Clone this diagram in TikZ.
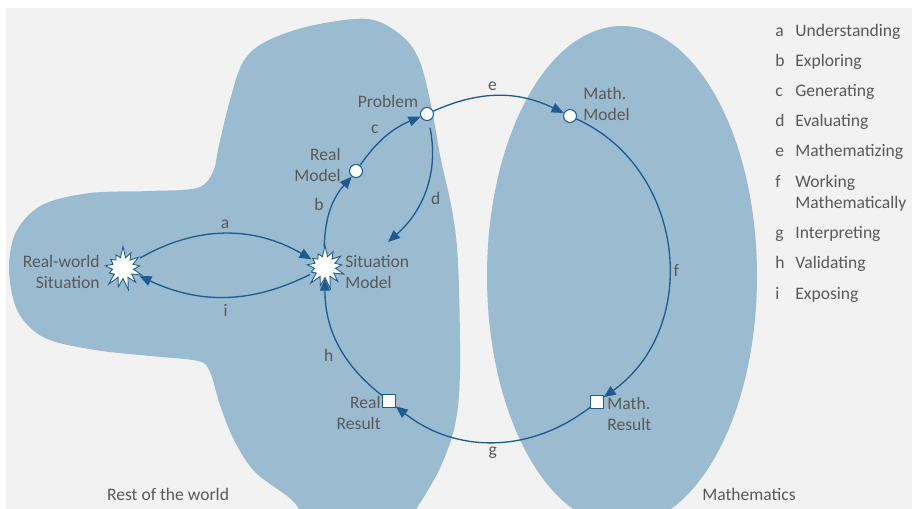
\documentclass[tikz,border=0pt]{standalone}
\usepackage{fontspec}
\setmainfont{Carlito}
\usetikzlibrary{arrows.meta, shapes.symbols}

\definecolor{paper}{HTML}{F2F2F2}
\definecolor{sky}{HTML}{9ABBD0}
\definecolor{flow}{HTML}{1F5A91}
\definecolor{ink}{HTML}{595959}

\begin{document}
\begin{tikzpicture}[
      x = 0.02cm, y = -0.02cm, font = \fontsize{10}{12}\selectfont, text = ink,
      region/.style = {fill = sky},
      state/.style  = {circle, draw = flow, fill = white, line width = .6pt,
                       minimum size = 2.6mm, inner sep = 0pt},
      result/.style = {rectangle, draw = flow, fill = white, line width = .6pt,
                       minimum size = 2.5mm, inner sep = 0pt},
      burst/.style  = {starburst, starburst points = 13, starburst point height = 2.4mm,
                       random starburst = 7, draw = flow, fill = white, line width = .5pt,
                       inner sep = 1.5mm},
      arr/.style    = {-{Triangle[length = 2.4mm, width = 2mm]}, draw = flow, line width = .75pt},
      lbl/.style    = {inner sep = 2.5pt},
      tag/.style    = {inner sep = 0pt, align = center},
      key/.style    = {anchor = base west, inner sep = 0pt}
    ]

  \useasboundingbox (0,0) rectangle (912,509);
  \fill[paper] (6,8) rectangle (912,509);

  % regions ---------------------------------------------------------------
  \begin{scope}
    \clip (6,8) rectangle (912,509);
    \fill[region] plot[smooth cycle, tension = .55] coordinates {
      (368,19) (402,36) (420,62) (432,110) (441,160) (452,210) (458,262)
      (460,370) (455,425) (440,468) (418,506) (395,535) (320,530) (292,500)
      (255,472) (234,440) (220,405) (210,372) (198,361) (150,356) (95,350)
      (45,338) (18,312) (9,270) (16,232) (42,205) (90,193) (150,191) (197,188)
      (213,172) (219,145) (230,100) (243,62) (265,42) (310,26)};
    \fill[region] (622,276) ellipse [x radius = 135, y radius = 250];
  \end{scope}

  % states ----------------------------------------------------------------
  \node[burst]  (rws)  at (123,268) {};
  \node[burst]  (sm)   at (325,267) {};
  \node[state]  (rm)   at (356,171) {};
  \node[state]  (prob) at (427,114) {};
  \node[state]  (mm)   at (570,116) {};
  \node[result] (mr)   at (597,402) {};
  \node[result] (rr)   at (389,401) {};
  \coordinate (dend) at (388,242);

  \node[tag, align = right, anchor = east] (trws) at (100,272) {Real-world\\Situation};
  \node[tag, align = left, anchor = west]  (tsm)  at (345,272) {Situation\\Model};
  \node[tag, align = right, anchor = east] (trm)  at (341,165) {Real\\Model};
  \node[tag]                               (tpr)  at (388,101) {Problem};
  \node[tag, align = left, anchor = west]  (tmm)  at (583,104) {Math.\\Model};
  \node[tag, align = left, anchor = west]  (tmr)  at (607,414) {Math.\\Result};
  \node[tag, align = right, anchor = east] (trr)  at (381,413) {Real\\Result};

  % cycle -----------------------------------------------------------------
  \draw[arr, shorten <= 2pt, shorten >= 1pt] (rws) to[bend left = 30] node[lbl, auto] (la) {a} (sm);
  \draw[arr, shorten <= 2pt, shorten >= 1pt] (sm) to[bend left = 26] node[lbl, auto, inner sep = 4pt] (li) {i} (rws);
  \draw[arr] (sm) to[bend left = 20] node[lbl, auto, pos = .4] (lb) {b} (rm);
  \draw[arr] (rm) to[bend left = 16] node[lbl, auto, pos = .45] (lc) {c} (prob);
  \draw[arr, shorten <= 4pt] (prob) to[bend left = 30] node[lbl, auto] (ld) {d} (dend);
  \draw[arr] (prob) to[bend left = 25] node[lbl, auto, pos = .45] (le) {e} (mm);
  \draw[arr] (mm) to[bend left = 60, looseness = 1.1] node[lbl, auto, pos = .56] (lf) {f} (mr);
  \draw[arr] (mr) to[bend left = 38] node[lbl, auto] (lg) {g} (rr);
  \draw[arr] (rr) to[bend left = 26] node[lbl, auto] (lh) {h} (sm);

  % areas -----------------------------------------------------------------
  \node[tag] (rest) at (168,494) {Rest of the world};
  \node[tag] (math) at (749,494) {Mathematics};

  % key -------------------------------------------------------------------
  \node[key] (ka) at (775,37)  {a};  \node[key] (wa) at (795,37)  {Understanding};
  \node[key] (kb) at (775,67)  {b};  \node[key] (wb) at (795,67)  {Exploring};
  \node[key] (kc) at (775,97)  {c};  \node[key] (wc) at (795,97)  {Generating};
  \node[key] (kd) at (775,127) {d};  \node[key] (wd) at (795,127) {Evaluating};
  \node[key] (ke) at (775,157) {e};  \node[key] (we) at (795,157) {Mathematizing};
  \node[key] (kf) at (775,188) {f};  \node[key] (wf) at (795,188) {Working};
  \node[key] (wf2) at (795,209) {Mathematically};
  \node[key] (kg) at (775,239) {g};  \node[key] (wg) at (795,239) {Interpreting};
  \node[key] (kh) at (775,269) {h};  \node[key] (wh) at (795,269) {Validating};
  \node[key] (ki) at (775,300) {i};  \node[key] (wi) at (795,300) {Exposing};

\end{tikzpicture}
\end{document}
